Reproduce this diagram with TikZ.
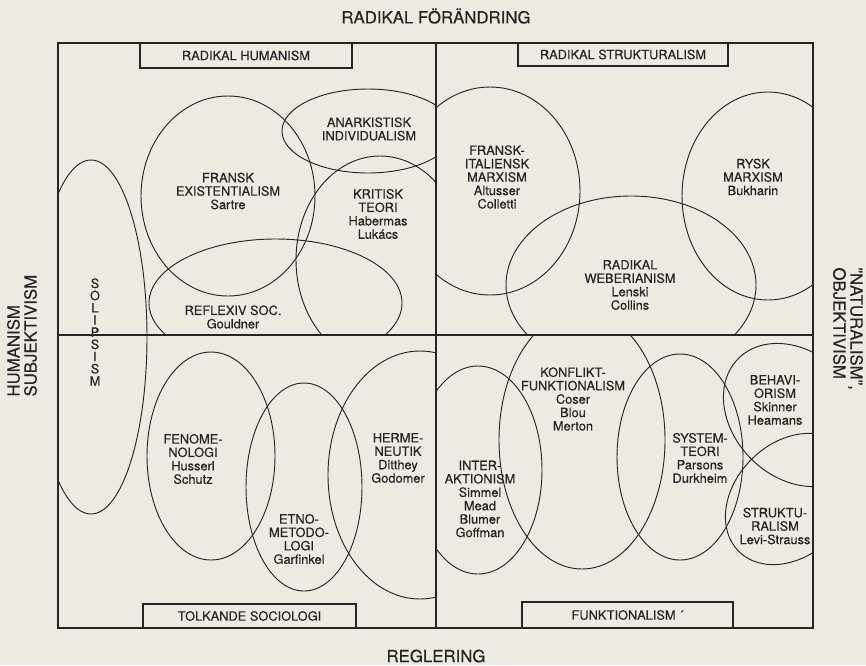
\documentclass[tikz,border=0pt]{standalone}
\usepackage{fontspec}
\setmainfont{TeX Gyre Heros}[FakeBold=0.45]
\usepackage{tikz}
\usepackage{xcolor}
\definecolor{paper}{RGB}{237,235,225}
\definecolor{ink}{RGB}{40,36,38}
\tikzset{every picture/.style={line width=0.75pt}}
\tikzset{
  lbl/.style={font=\fontsize{9.6}{10.05}\selectfont, align=center, text=ink, inner sep=0pt},
  axislbl/.style={font=\fontsize{12.6}{12.8}\selectfont, text=ink, inner sep=0pt},
  quadbox/.style={draw=ink, line width=1.1pt, font=\fontsize{9.6}{10.05}\selectfont, text=ink, inner sep=0pt},
  school/.style={draw=ink, line width=0.7pt},
  frame/.style={draw=ink, line width=1.4pt},
}

\begin{document}
\begin{tikzpicture}[x=0.75pt,y=0.75pt,yscale=-1,xscale=1]
%set diagram left start at 0, and has height of 665
\fill [paper] (0,0) rectangle (866,665);

%Shape: Ellipse (upper left)
\begin{scope}
\clip (58,43) rectangle (436,335);
\draw [school] (228,196) ellipse [x radius=87, y radius=100];
\draw [school] (368,131) ellipse [x radius=86, y radius=42];
\draw [school] (380,260) ellipse [x radius=84, y radius=104];
\draw [school] (275.5,303) ellipse [x radius=126.5, y radius=64];
\end{scope}
%Shape: Ellipse (upper right)
\begin{scope}
\clip (436,43) rectangle (813,335);
\draw [school] (490,191) ellipse [x radius=90, y radius=104];
\draw [school] (768,196) ellipse [x radius=86, y radius=104];
\draw [school] (631,285) ellipse [x radius=125, y radius=89];
\end{scope}
%Shape: Ellipse (lower left)
\begin{scope}
\clip (58,335) rectangle (436,628);
\draw [school] (211,456) ellipse [x radius=64, y radius=104];
\draw [school] (304,487) ellipse [x radius=58, y radius=104];
\draw [school] (420,475) ellipse [x radius=92, y radius=124];
\end{scope}
%Shape: Ellipse (lower right)
\begin{scope}
\clip (436,335) rectangle (813,628);
\draw [school] (478,470) ellipse [x radius=64, y radius=104];
\draw [school] (582,440) ellipse [x radius=83, y radius=129];
\draw [school] (680,457) ellipse [x radius=63, y radius=103];
\draw [school, rotate around={45:(795,415)}] (795,415) ellipse [x radius=80, y radius=62];
\draw [school, rotate around={-45:(791,499)}] (791,499) ellipse [x radius=74, y radius=56];
\end{scope}
%Shape: Ellipse (solipsism)
\begin{scope}
\clip (58,43) rectangle (813,628);
\draw [school] (91,337) ellipse [x radius=56, y radius=177];
\end{scope}

%Shape: Rectangle
\draw [frame] (58,43) rectangle (813,628);
%Straight Lines
\draw [frame] (436,43) -- (436,628);
%Straight Lines
\draw [frame] (58,335) -- (813,335);

% Text Node
\draw (246,55.5) node [quadbox, minimum width=159pt, minimum height=18.75pt] (radhum) {RADIKAL HUMANISM};
% Text Node
\draw (623,54.5) node [quadbox, minimum width=157.5pt, minimum height=17.25pt] (radstr) {RADIKAL STRUKTURALISM};
% Text Node
\draw (249.5,616) node [quadbox, minimum width=159.75pt, minimum height=18pt] (tolk) {TOLKANDE SOCIOLOGI};
% Text Node
\draw (627.5,615) node [quadbox, minimum width=158.25pt, minimum height=19.5pt] (funk) {FUNKTIONALISM ´};

% Text Node
\draw (436,16) node [axislbl] (forandring) {RADIKAL FÖRÄNDRING};
% Text Node
\draw (436,656) node [axislbl] (reglering) {REGLERING};
% Text Node
\draw (22,397) node [axislbl, rotate=90, anchor=west, align=left] (subjekt) {HUMANISM\\SUBJEKTIVISM};
% Text Node
\draw (848,267) node [axislbl, rotate=-90, anchor=west, align=left] (objekt) {"NATURALISM",\\OBJEKTIVISM};

% Text Node
\draw (95,332) node [lbl, font=\fontsize{9.6}{9.15}\selectfont] (solips) {S\\O\\L\\I\\P\\S\\I\\S\\M};
% Text Node
\draw (228,191) node [lbl] (exist) {FRANSK\\EXISTENTIALISM\\Sartre};
% Text Node
\draw (369,129) node [lbl] (anark) {ANARKISTISK\\INDIVIDUALISM};
% Text Node
\draw (378,214) node [lbl] (kritisk) {KRITISK\\TEORI\\Habermas\\Lukács};
% Text Node
\draw (233,317) node [lbl] (reflex) {REFLEXIV SOC.\\Gouldner};
% Text Node
\draw (497,177) node [lbl] (frital) {FRANSK-\\ITALIENSK\\MARXISM\\Altusser\\Colletti};
% Text Node
\draw (753,177) node [lbl] (rysk) {RYSK\\MARXISM\\Bukharin};
% Text Node
\draw (630,285) node [lbl] (weber) {RADIKAL\\WEBERIANISM\\Lenski\\Collins};
% Text Node
\draw (193,459) node [lbl] (fenom) {FENOME-\\NOLOGI\\Husserl\\Schutz};
% Text Node
\draw (299,539) node [lbl] (etno) {ETNO-\\METODO-\\LOGI\\Garfinkel};
% Text Node
\draw (398,458) node [lbl] (herme) {HERME-\\NEUTIK\\Ditthey\\Godomer};
% Text Node
\draw (480,499) node [lbl] (inter) {INTER-\\AKTIONISM\\Simmel\\Mead\\Blumer\\Goffman};
% Text Node
\draw (573,399) node [lbl] (konflikt) {KONFLIKT-\\FUNKTIONALISM\\Coser\\Blou\\Merton};
% Text Node
\draw (700,458) node [lbl] (system) {SYSTEM-\\TEORI\\Parsons\\Durkheim};
% Text Node
\draw (775,400) node [lbl] (behav) {BEHAVI-\\ORISM\\Skinner\\Heamans};
% Text Node
\draw (775,526) node [lbl] (strukt) {STRUKTU-\\RALISM\\Levi-Strauss};

\end{tikzpicture}
\end{document}
